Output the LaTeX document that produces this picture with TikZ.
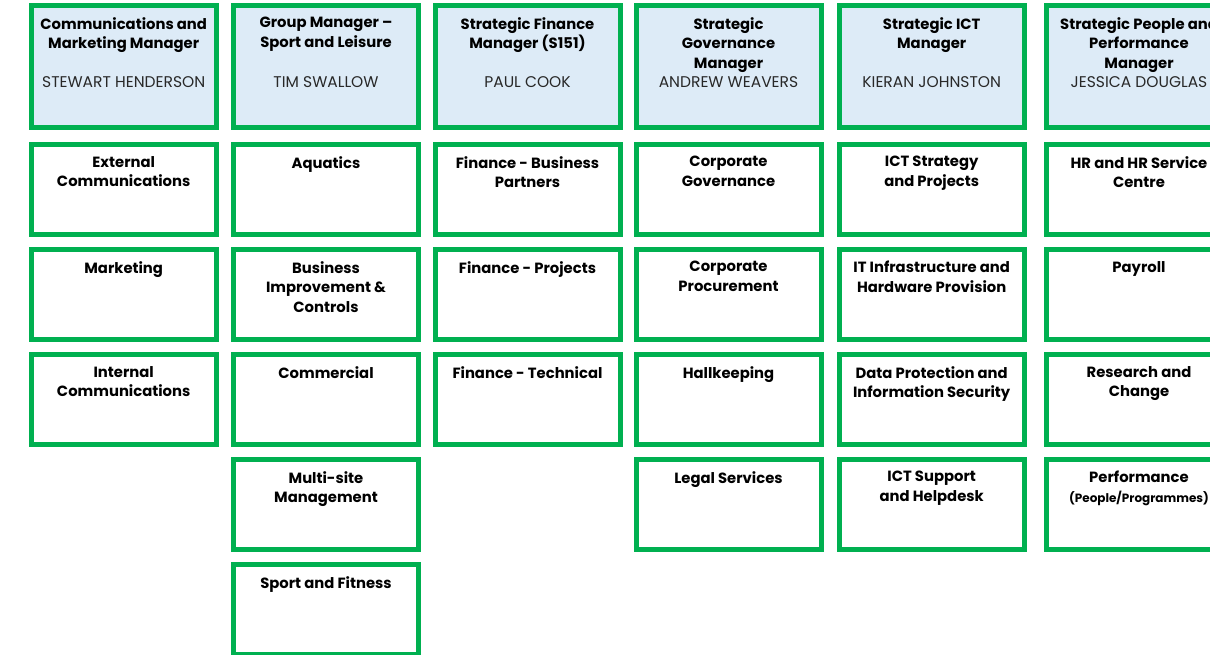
\documentclass[tikz,border=0pt]{standalone}
\usepackage{fontspec}
\setmainfont{Poppins}
\definecolor{boxgreen}{RGB}{0,176,80}
\definecolor{headfill}{RGB}{221,235,247}
\definecolor{nametext}{RGB}{40,40,40}
\newcommand\orghead[4]{% name, x, title, person
  \node[headbox] (#1) at (#2,3) {};
  \node[ttl] (#1-t) at ([yshift=-14pt]#1.north) {#3};
  \node[nm] (#1-n) at (#2+95,87) {#4};
}
\newcommand\orgsub[4]{% name, x, y, text
  \node[subbox] (#1) at (#2,#3) {};
  \node[ttl] (#1-t) at ([yshift=-14pt]#1.north) {#4};
}
\begin{document}
\begin{tikzpicture}[x=1pt,y=-1pt,
  basebox/.style={draw=boxgreen,line width=5pt,minimum width=185pt,inner sep=0pt,anchor=north west},
  headbox/.style={basebox,fill=headfill,minimum height=122pt},
  subbox/.style={basebox,fill=white,minimum height=90pt},
  ttl/.style={anchor=north,align=center,inner sep=0pt,font=\fontsize{14.8}{19.5}\selectfont\bfseries},
  nm/.style={anchor=base,inner sep=0pt,text=nametext,font=\fontsize{15.5}{19.5}\selectfont}
]
\useasboundingbox (0,0) rectangle (1210,654);
\clip (0,0) rectangle (1210,654);
% column 1
\orghead{h1}{28.7}{Communications and\\Marketing Manager}{STEWART HENDERSON}
\orgsub{a1}{28.7}{142}{External\\Communications}
\orgsub{a2}{28.7}{247}{Marketing}
\orgsub{a3}{28.7}{352}{Internal\\Communications}
% column 2
\orghead{h2}{231}{Group Manager --\\Sport and Leisure}{TIM SWALLOW}
\orgsub{b1}{231}{142}{Aquatics}
\orgsub{b2}{231}{247}{Business\\Improvement \&\\Controls}
\orgsub{b3}{231}{352}{Commercial}
\orgsub{b4}{231}{457}{Multi-site\\Management}
\orgsub{b5}{231}{562}{Sport and Fitness}
% column 3
\orghead{h3}{432.5}{Strategic Finance\\Manager (S151)}{PAUL COOK}
\orgsub{c1}{432.5}{142}{Finance - Business\\Partners}
\orgsub{c2}{432.5}{247}{Finance - Projects}
\orgsub{c3}{432.5}{352}{Finance - Technical}
% column 4
\orghead{h4}{633.5}{Strategic\\Governance\\Manager}{ANDREW WEAVERS}
\orgsub{d1}{633.5}{142}{Corporate\\Governance}
\orgsub{d2}{633.5}{247}{Corporate\\Procurement}
\orgsub{d3}{633.5}{352}{Hallkeeping}
\orgsub{d4}{633.5}{457}{Legal Services}
% column 5
\orghead{h5}{836.7}{Strategic ICT\\Manager}{KIERAN JOHNSTON}
\orgsub{e1}{836.7}{142}{ICT Strategy\\and Projects}
\orgsub{e2}{836.7}{247}{IT Infrastructure and\\Hardware Provision}
\orgsub{e3}{836.7}{352}{Data Protection and\\Information Security}
\orgsub{e4}{836.7}{457}{ICT Support\\and Helpdesk}
% column 6
\orghead{h6}{1044}{Strategic People and\\Performance\\Manager}{JESSICA DOUGLAS}
\orgsub{f1}{1044}{142}{HR and HR Service\\Centre}
\orgsub{f2}{1044}{247}{Payroll}
\orgsub{f3}{1044}{352}{Research and\\Change}
\orgsub{f4}{1044}{457}{Performance\\{\fontsize{12}{14}\selectfont (People/Programmes)}}
\end{tikzpicture}
\end{document}
